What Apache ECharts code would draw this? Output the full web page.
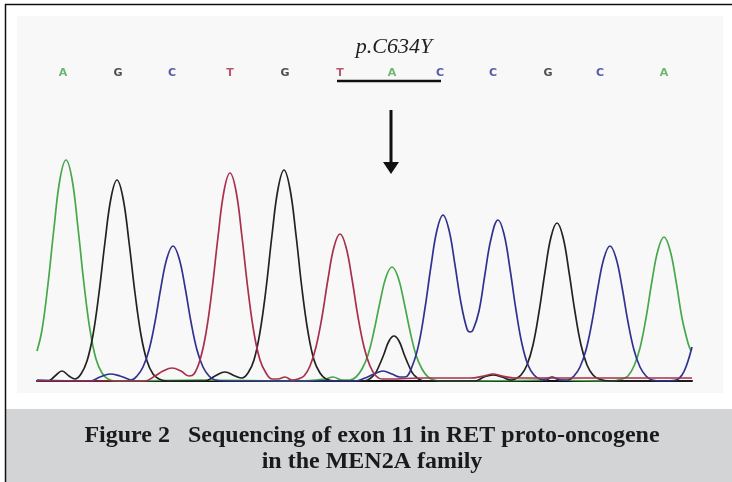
<!DOCTYPE html>
<html><head><meta charset="utf-8">
<script src="https://cdn.jsdelivr.net/npm/echarts/dist/echarts.min.js"></script>
<style>html,body{margin:0;padding:0;background:#fff}#c{width:732px;height:482px}</style>
</head><body><div id="c"></div>
<script>
// Base calls and their scan positions
const baseCalls = ['A','G','C','T','G','T','A','C','C','G','C','A'];
const basePositions = [63,118,172,230,285,340,392,440,493,548,600,664];

// Trace signals: [scan position, signal]
const traceA = [[37,30],[42,51],[48,97],[54,153],[60,202],[66,221],[72,202],[78,153],[84,97],[90,51],[96,22],[102,8],[108,2],[116,0],
  [200,1],[300,0],[325,2],[333,4],[342,1],[350,1],[356,4],[362,12],[368,26],[374,50],[380,79],[386,104],[392,114],[398,104],[404,79],[410,50],[416,26],[422,12],[428,4],[434,1],[442,0],
  [540,1],[552,4],[562,1],[612,0],[622,2],[628,5],[634,15],[640,33],[646,63],[652,100],[658,131],[664,144],[670,131],[676,100],[682,63],[688,38],[691,30]];
const traceG = [[37,0],[48,0],[55,5],[62,10],[69,5],[75,2],[81,7],[87,20],[93,46],[99,88],[105,139],[111,183],[117,201],[123,183],[129,139],[135,88],[141,46],[147,20],[153,7],[159,2],[167,0],
  [205,0],[215,5],[225,9],[235,5],[242,3],[248,8],[254,21],[260,49],[266,92],[272,146],[278,192],[284,211],[290,192],[296,146],[302,92],[308,49],[314,21],[320,8],[326,2],[336,0],
  [364,0],[374,6],[379,15],[384,27],[389,40],[394,45],[399,40],[404,27],[409,15],[414,6],[424,0],[475,0],[484,4],[493,6],[502,4],[511,1],
  [515,2],[521,6],[527,16],[533,36],[539,69],[545,109],[551,144],[557,158],[563,144],[569,109],[575,69],[581,36],[587,16],[593,6],[599,2],[610,0],[692,0]];
const traceC = [[37,1],[90,0],[100,4],[110,7],[120,5],[128,2],[131,1],[137,5],[143,14],[149,31],[155,59],[161,94],[167,123],[173,135],[179,123],[185,94],[191,59],[197,31],[203,14],[209,5],[215,1],[225,0],
  [355,0],[365,3],[374,7],[383,10],[392,7],[400,4],[405,4],[413,17],[419,38],[425,73],[431,115],[437,151],[443,166],[449,151],[455,116],[461,78],[467,52],[470,49],[473,51],[479,70],[485,107],[491,142],[498,161],[504,147],[510,112],[516,71],[522,37],[528,16],[534,6],[540,2],[546,1],[552,4],[560,1],
  [568,1],[574,5],[580,14],[586,31],[592,59],[598,94],[604,123],[610,135],[616,123],[622,94],[628,59],[634,31],[640,14],[646,5],[652,1],[662,0],[676,1],[682,6],[687,17],[692,34]];
const traceT = [[37,0],[145,0],[155,5],[163,10],[172,13],[181,10],[189,5],[194,7],[200,21],[206,48],[212,91],[218,144],[224,190],[230,208],[236,190],[242,144],[248,91],[254,48],[260,21],[266,8],[272,2],[278,2],[285,4],[292,1],
  [298,2],[304,5],[310,15],[316,34],[322,64],[328,102],[334,134],[340,147],[346,134],[352,102],[358,64],[364,34],[370,15],[376,5],[382,2],[390,2],[420,3],[470,3],[484,5],[493,7],[502,5],[515,3],[600,3],[692,3]];

const baseColor = {A:'#46a84a', G:'#222222', C:'#30328f', T:'#a8304c'};

const chart = echarts.init(document.getElementById('c'), null, {renderer:'canvas'});
const traces = [['A',traceA],['G',traceG],['C',traceC],['T',traceT]];
const series = traces.map(([b, d]) => ({
  type:'line', xAxisIndex:0, yAxisIndex:0, data:d, smooth:0.4, symbol:'none',
  lineStyle:{color:baseColor[b], width:1.7}, silent:true, z:3
}));
series.push({
  type:'scatter', xAxisIndex:1, yAxisIndex:1, symbolSize:1,
  itemStyle:{color:'rgba(0,0,0,0)'},
  data: baseCalls.map((b,i)=>({name:b, value:[basePositions[i],0.5], label:{color:baseColor[b]}})),
  label:{show:true, position:'inside', formatter:'{b}', fontSize:11, fontWeight:'bold', fontFamily:'DejaVu Sans'}
});

chart.setOption({
  animation:false,
  backgroundColor:'#ffffff',
  grid:[{left:37,right:40,top:151,bottom:101},{left:37,right:40,top:63,height:20}],
  xAxis:[
    {type:'value',min:37,max:692,gridIndex:0,axisLine:{show:true,onZero:true,lineStyle:{color:'#111',width:2}},axisTick:{show:false},axisLabel:{show:false},splitLine:{show:false}},
    {type:'value',min:37,max:692,gridIndex:1,show:false}
  ],
  yAxis:[
    {type:'value',min:0,max:230,gridIndex:0,show:false},
    {type:'value',min:0,max:1,gridIndex:1,show:false}
  ],
  graphic:[
    {type:'rect',z:-5,shape:{x:17,y:16,width:706,height:377},style:{fill:'#f8f8f8'}},
    {type:'rect',z:-5,shape:{x:6,y:409,width:726,height:73},style:{fill:'#d3d4d6'}},
    {type:'line',z:1,shape:{x1:5,y1:4.5,x2:732,y2:4.5},style:{stroke:'#111',lineWidth:1.5}},
    {type:'line',z:1,shape:{x1:5.5,y1:4,x2:5.5,y2:482},style:{stroke:'#111',lineWidth:1.5}},
    {type:'line',z:5,shape:{x1:337,y1:81,x2:441,y2:81},style:{stroke:'#111',lineWidth:2.5}},
    {type:'line',z:5,shape:{x1:391,y1:110,x2:391,y2:165},style:{stroke:'#111',lineWidth:3}},
    {type:'polygon',z:5,shape:{points:[[383,162],[399,162],[391,174]]},style:{fill:'#111'}},
    {type:'text',z:5,style:{text:'p.C634Y',x:394,y:47,align:'center',verticalAlign:'middle',font:'italic 22px "Liberation Serif"',fill:'#222'}},
    {type:'text',z:5,style:{text:'Figure 2\u2002 Sequencing of exon 11 in RET proto-oncogene',x:372,y:436,align:'center',verticalAlign:'middle',font:'bold 24px "Liberation Serif"',fill:'#1a1a1a'}},
    {type:'text',z:5,style:{text:'in the MEN2A family',x:372,y:462,align:'center',verticalAlign:'middle',font:'bold 24px "Liberation Serif"',fill:'#1a1a1a'}}
  ],
  series: series
});
</script>
</body></html>
